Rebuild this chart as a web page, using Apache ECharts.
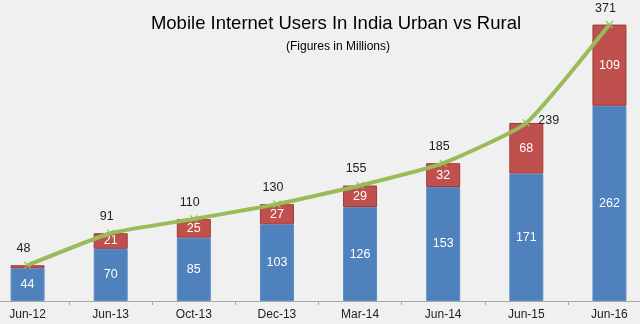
<!DOCTYPE html>
<html><head><meta charset="utf-8">
<script src="https://cdn.jsdelivr.net/npm/echarts@6/dist/echarts.min.js"></script>
<style>html,body{margin:0;padding:0;background:#f0f0f0;overflow:hidden;width:640px;height:324px}#c{width:665px;height:324px;margin-left:-14px}</style>
</head><body><div id="c"></div>
<script>
var categories = ['Jun-12','Jun-13','Oct-13','Dec-13','Mar-14','Jun-14','Jun-15','Jun-16'];
var urban = [44,70,85,103,126,153,171,262];
var rural = [4,21,25,27,29,32,68,109];
var total = [48,91,110,130,155,185,239,371];

var chart = echarts.init(document.getElementById('c'), null, {renderer:'canvas'});
var xPath = 'path://M0,1L1,0L5,4L9,0L10,1L6,5L10,9L9,10L5,6L1,10L0,9L4,5Z';
var FF = 'Liberation Sans, Arial';
chart.setOption({
  backgroundColor:'#f0f0f0',
  animation:false,
  title:[{
    text:'Mobile Internet Users In India Urban vs Rural',
    left:345, top:9, textAlign:'center',
    textStyle:{fontFamily:FF,fontSize:18.5,fontWeight:'normal',color:'#000'}
  },{
    text:'(Figures in Millions)',
    left:347, top:36, textAlign:'center',
    textStyle:{fontFamily:FF,fontSize:12,fontWeight:'normal',color:'#000'}
  }],
  grid:{left:0, right:0, top:3, bottom:23, containLabel:false},
  xAxis:{
    type:'category', data:categories,
    axisLine:{lineStyle:{color:'#a6a6a6',width:1}},
    axisTick:{show:true,alignWithLabel:false,length:4,lineStyle:{color:'#a6a6a6'}},
    axisLabel:{color:'#222',fontSize:12,fontFamily:FF,margin:8}
  },
  yAxis:{type:'value',min:0,max:400,show:false,splitLine:{show:false}},
  series:[{
    name:'Urban', type:'bar', stack:'a', data:urban, barWidth:34,
    itemStyle:{color:'#4f81bd',borderColor:'#5b8cc6',borderWidth:1},
    label:{show:true,position:'inside',color:'#fff',fontSize:12.5,fontFamily:FF}
  },{
    name:'Rural', type:'bar', stack:'a', data:rural.map(function(v,i){
      return i===0 ? {value:v,label:{show:false}} : v;}),
    itemStyle:{color:'#c0504d',borderColor:'#9c3b38',borderWidth:1},
    label:{show:true,position:'inside',color:'#fff',fontSize:12.5,fontFamily:FF}
  },{
    name:'Total', type:'line', data:total.map(function(v,i){
      return i===6 ? {value:v,label:{position:'right',distance:8,offset:[0,-2]}} : v;}),
    smooth:0.15,
    lineStyle:{color:'#9bbb59',width:4},
    symbol:xPath, symbolSize:8,
    itemStyle:{color:'#9bbb59'},
    label:{show:true,position:'top',distance:6,offset:[-4,0],color:'#222',fontSize:12.5,fontFamily:FF},
    z:5
  }]
});
</script></body></html>
